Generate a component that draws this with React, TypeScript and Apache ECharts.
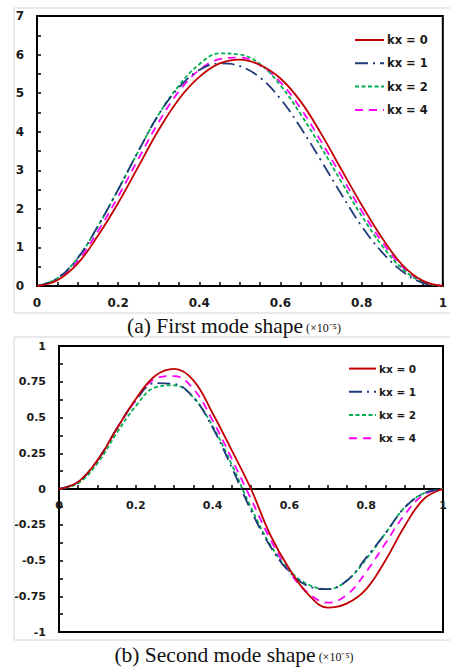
import React, { useEffect, useRef } from "react";
import * as echarts from "echarts";

// positions along the beam (x)
const xs = [0, 0.05, 0.1, 0.15, 0.2, 0.25, 0.3, 0.35, 0.4, 0.45, 0.5, 0.55, 0.6, 0.65, 0.7, 0.75, 0.8, 0.85, 0.9, 0.95, 1];
const seriesNames = ["kx = 0", "kx = 1", "kx = 2", "kx = 4"];

// (a) first mode shape
const mode1Kx0 = [0, 0.15, 0.58, 1.3, 2.15, 3.1, 4.05, 4.85, 5.42, 5.77, 5.87, 5.73, 5.38, 4.78, 3.95, 3.02, 2.1, 1.25, 0.55, 0.14, 0];
const mode1Kx1 = [0, 0.2, 0.72, 1.55, 2.5, 3.5, 4.45, 5.15, 5.6, 5.77, 5.7, 5.4, 4.85, 4.1, 3.25, 2.38, 1.55, 0.88, 0.38, 0.08, 0];
const mode1Kx2 = [0, 0.2, 0.72, 1.55, 2.5, 3.5, 4.45, 5.2, 5.75, 6.03, 6.0, 5.75, 5.2, 4.45, 3.6, 2.7, 1.82, 1.05, 0.45, 0.1, 0];
const mode1Kx4 = [0, 0.17, 0.65, 1.42, 2.32, 3.3, 4.25, 5.05, 5.6, 5.88, 5.92, 5.72, 5.28, 4.6, 3.75, 2.85, 1.95, 1.15, 0.5, 0.12, 0];

// (b) second mode shape
const mode2Kx0 = [0, 0.05, 0.2, 0.42, 0.63, 0.79, 0.84, 0.76, 0.53, 0.27, 0, -0.32, -0.56, -0.74, -0.83, -0.8, -0.7, -0.5, -0.26, -0.07, 0];
const mode2Kx1 = [0, 0.05, 0.2, 0.42, 0.62, 0.74, 0.735, 0.64, 0.43, 0.15, -0.15, -0.4, -0.58, -0.68, -0.7, -0.64, -0.48, -0.31, -0.13, -0.03, 0];
const mode2Kx2 = [0, 0.04, 0.18, 0.39, 0.58, 0.71, 0.725, 0.64, 0.44, 0.17, -0.13, -0.39, -0.57, -0.67, -0.7, -0.64, -0.49, -0.31, -0.13, -0.03, 0];
const mode2Kx4 = [0, 0.05, 0.2, 0.42, 0.62, 0.77, 0.79, 0.7, 0.48, 0.21, -0.07, -0.35, -0.58, -0.73, -0.795, -0.74, -0.58, -0.38, -0.18, -0.04, 0];

const captionA = "(a) First mode shape";
const captionB = "(b) Second mode shape";
const captionUnit = "(×10⁻⁵)";

const colors = ["#c00000", "#1f3a7a", "#00b050", "#ff00ff"];
const dashes: any[] = ["solid", [13, 5, 2, 5], [4, 2.5], [8, 6]];

export default function App() {
  const ref = useRef<HTMLDivElement>(null);
  useEffect(() => {
    if (!ref.current) return;
    const chart = echarts.init(ref.current, undefined, { renderer: "svg" });
    const mode1 = [mode1Kx0, mode1Kx1, mode1Kx2, mode1Kx4];
    const mode2 = [mode2Kx0, mode2Kx1, mode2Kx2, mode2Kx4];
    const mk = (arr: number[][], idx: number) =>
      arr.map((vals, i) => ({
        name: seriesNames[i],
        type: "line",
        xAxisIndex: idx,
        yAxisIndex: idx,
        data: xs.map((x, j) => [x, vals[j]]),
        smooth: 0.4,
        symbol: "none",
        showSymbol: false,
        color: colors[i],
        lineStyle: { color: colors[i], width: 1.8, type: dashes[i] },
        z: 3 + (3 - i),
      }));
    const labelFont = (size: number) => ({
      fontFamily: "DejaVu Sans",
      fontWeight: "bold" as const,
      fontSize: size,
      color: "#1a1a1a",
    });
    const axisLine = { show: true, onZero: false, lineStyle: { color: "#000", width: 2 } };
    const tick = { show: true, inside: true, length: 4, lineStyle: { color: "#000", width: 1.5 } };
    const minor = (n: number) => ({ show: true, splitNumber: n, length: 4, lineStyle: { color: "#000", width: 1.5 } });
    chart.setOption({
      animation: false,
      backgroundColor: "#ffffff",
      grid: [
        { left: 37, top: 16, width: 406, height: 270, show: true, borderColor: "#000", borderWidth: 2, backgroundColor: "transparent" },
        { left: 59, top: 346, width: 384, height: 286, show: true, borderColor: "#000", borderWidth: 2, backgroundColor: "transparent" },
      ],
      xAxis: [
        {
          type: "value", gridIndex: 0, min: 0, max: 1, interval: 0.2,
          axisLine, axisTick: tick, minorTick: minor(4), splitLine: { show: false },
          axisLabel: { ...labelFont(12), margin: 11 },
        },
        {
          type: "value", gridIndex: 1, min: 0, max: 1, interval: 0.2,
          position: "bottom", offset: -143,
          axisLine, axisTick: tick, minorTick: minor(4), splitLine: { show: false },
          axisLabel: { ...labelFont(11), margin: 11 },
        },
      ],
      yAxis: [
        {
          type: "value", gridIndex: 0, min: 0, max: 7, interval: 1,
          axisLine, axisTick: tick, minorTick: minor(2), splitLine: { show: false },
          axisLabel: { ...labelFont(12), margin: 13 },
        },
        {
          type: "value", gridIndex: 1, min: -1, max: 1, interval: 0.25,
          axisLine, axisTick: tick, minorTick: minor(2), splitLine: { show: false },
          axisLabel: { ...labelFont(11), margin: 13 },
        },
      ],
      legend: [
        {
          orient: "vertical", left: 354, top: 34, padding: 0,
          itemWidth: 29, itemHeight: 14, itemGap: 11.3,
          data: seriesNames,
          itemStyle: { opacity: 0 },
          textStyle: { ...labelFont(11.5), padding: [0, 0, 0, -2] },
          selectedMode: false,
        },
        {
          orient: "vertical", left: 348, top: 363, padding: 0,
          itemWidth: 27, itemHeight: 14, itemGap: 12,
          data: seriesNames,
          itemStyle: { opacity: 0 },
          textStyle: { ...labelFont(10.5), padding: [0, 0, 0, -2] },
          selectedMode: false,
        },
      ],
      series: [...mk(mode1, 0), ...mk(mode2, 1)],
      graphic: [
        { type: "rect", shape: { x: 14, y: 8, width: 450, height: 305 }, style: { fill: "none", stroke: "#d4d4d4", lineWidth: 1 }, z: -10, silent: true },
        { type: "rect", shape: { x: 14, y: 337, width: 450, height: 303 }, style: { fill: "none", stroke: "#d4d4d4", lineWidth: 1 }, z: -10, silent: true },
        {
          type: "text", x: 234, y: 326,
          style: {
            text: `{a|${captionA}}{b| ${captionUnit}}`,
            align: "center", verticalAlign: "middle",
            rich: {
              a: { fontFamily: "Liberation Serif", fontSize: 21.5, fill: "#111" },
              b: { fontFamily: "Liberation Serif", fontSize: 12, fill: "#111", padding: [4, 0, 0, 0] },
            },
          },
        },
        {
          type: "text", x: 234, y: 655,
          style: {
            text: `{a|${captionB}}{b| ${captionUnit}}`,
            align: "center", verticalAlign: "middle",
            rich: {
              a: { fontFamily: "Liberation Serif", fontSize: 21.5, fill: "#111" },
              b: { fontFamily: "Liberation Serif", fontSize: 12, fill: "#111", padding: [4, 0, 0, 0] },
            },
          },
        },
      ],
    });
    return () => chart.dispose();
  }, []);
  return <div ref={ref} style={{ position: "fixed", left: 0, top: 0, width: 450, height: 668, background: "#fff" }} />;
}
